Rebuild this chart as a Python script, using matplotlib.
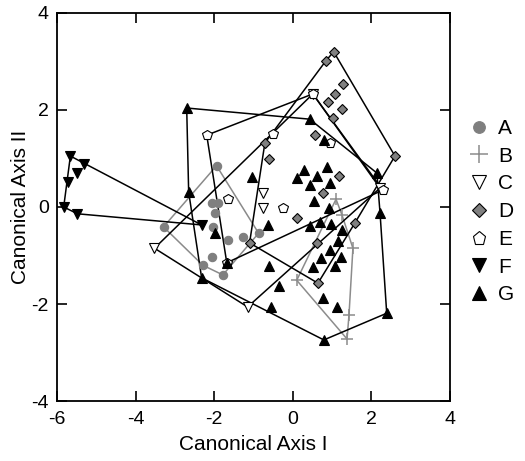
import numpy as np
import matplotlib
matplotlib.use('Agg')
import matplotlib.pyplot as plt

plt.rcParams['font.family'] = ['Liberation Sans', 'DejaVu Sans']
plt.rcParams['axes.unicode_minus'] = False

# canonical scores per group (axis I, axis II)
a_x = [-3.29, -1.94, -2.06, -1.91, -1.99, -2.04, -1.66, -1.27, -0.87, -2.06, -2.29, -1.78]
a_y = [-0.41, 0.85, 0.08, 0.08, -0.12, -0.41, -0.68, -0.62, -0.54, -1.03, -1.20, -1.40]

b_x = [1.10, 1.25, 1.53, 0.10, 1.43, 1.38]
b_y = [0.16, -0.16, -0.85, -1.51, -2.23, -2.72]

c_x = [-3.52, -0.76, -0.76, -1.15, 0.51, 2.22]
c_y = [-0.85, 0.29, -0.02, -2.06, 2.33, 0.39]

d_x = [1.04, 0.84, 1.27, 1.07, 0.89, 1.25, 1.02, 0.56, -0.71, -0.61, 1.17, 0.76,
       0.10, 1.58, 0.61, 0.64, -1.10, 2.60]
d_y = [3.20, 3.01, 2.54, 2.33, 2.16, 2.02, 1.84, 1.48, 1.32, 0.99, 0.64, 0.29,
       -0.23, -0.33, -0.74, -1.57, -0.74, 1.05]

e_x = [-2.19, 0.51, 2.29, -1.68, -1.66, -0.25, 0.94, -0.51]
e_y = [1.48, 2.33, 0.35, -1.15, 0.16, -0.02, 1.32, 1.51]

f_x = [-5.66, -5.32, -5.50, -5.73, -5.83, -5.48, -2.32]
f_y = [1.05, 0.89, 0.70, 0.52, 0.00, -0.14, -0.37]

g_x = [-2.70, 0.43, 0.79, -1.04, -2.65, 0.28, 0.10, 0.61, 0.87, 0.43, 0.94, 0.54,
       0.92, 2.14, 2.22, -1.99, -0.64, -1.68, -0.61, -0.36, -0.56, -2.32, 0.43, 0.69,
       0.97, 1.25, 1.15, 0.94, 0.71, 0.51, 1.22, 1.07, 0.76, 1.12, 2.39, 0.79]
g_y = [2.04, 1.81, 1.38, 0.62, 0.31, 0.76, 0.60, 0.64, 0.82, 0.45, 0.49, 0.12,
       -0.02, 0.70, -0.12, -0.54, -0.37, -1.15, -1.22, -1.63, -2.06, -1.46, -0.39, -0.31,
       -0.35, -0.47, -0.70, -0.89, -1.05, -1.24, -1.03, -1.22, -1.88, -2.06, -2.19, -2.74]

groups = ['A', 'B', 'C', 'D', 'E', 'F', 'G']


def hull(xs, ys):
    pts = sorted(set(zip(xs, ys)))

    def cross(o, a, b):
        return (a[0] - o[0]) * (b[1] - o[1]) - (a[1] - o[1]) * (b[0] - o[0])

    lower, upper = [], []
    for p in pts:
        while len(lower) >= 2 and cross(lower[-2], lower[-1], p) <= 0:
            lower.pop()
        lower.append(p)
    for p in reversed(pts):
        while len(upper) >= 2 and cross(upper[-2], upper[-1], p) <= 0:
            upper.pop()
        upper.append(p)
    h = lower[:-1] + upper[:-1]
    h.append(h[0])
    return np.array(h)


styles = {
    'A': dict(marker='o', ms=6, mfc='#7f7f7f', mec='#7f7f7f', line='#8a8a8a'),
    'B': dict(marker='+', ms=9, mfc='#8c8c8c', mec='#8c8c8c', line='#8c8c8c', mew=1.1),
    'C': dict(marker='v', ms=7, mfc='white', mec='black', line='black'),
    'D': dict(marker='D', ms=5, mfc='#808080', mec='black', line='black'),
    'E': dict(marker='p', ms=7, mfc='white', mec='black', line='black'),
    'F': dict(marker='v', ms=7.5, mfc='black', mec='black', line='black'),
    'G': dict(marker='^', ms=7.5, mfc='black', mec='black', line='black'),
}
data = {'A': (a_x, a_y), 'B': (b_x, b_y), 'C': (c_x, c_y), 'D': (d_x, d_y),
        'E': (e_x, e_y), 'F': (f_x, f_y), 'G': (g_x, g_y)}

fig = plt.figure(figsize=(5.25, 4.61), dpi=100)
ax = fig.add_axes([0.1086, 0.130, 0.7485, 0.842])

handles = []
for name in groups:
    xs, ys = data[name]
    s = styles[name]
    h = hull(xs, ys)
    ax.plot(h[:, 0], h[:, 1], color=s['line'], lw=1.1, zorder=2)
for name in groups:
    xs, ys = data[name]
    s = styles[name]
    ln, = ax.plot(xs, ys, ls='none', marker=s['marker'], ms=s['ms'],
                  mfc=s['mfc'], mec=s['mec'], mew=s.get('mew', 0.8),
                  label=name, zorder=3)
    handles.append(ln)

ax.set_xlim(-6, 4)
ax.set_ylim(-4, 4)
ax.set_xticks([-6, -4, -2, 0, 2, 4])
ax.set_yticks([-4, -2, 0, 2, 4])
ax.tick_params(direction='in', length=7, width=1.2, top=True, right=True,
               labelsize=14)
ax.tick_params(axis='x', pad=7)
ax.tick_params(axis='y', pad=6)
for sp in ax.spines.values():
    sp.set_linewidth(1.3)
ax.set_xlabel('Canonical Axis I', fontsize=15, labelpad=5)
ax.set_ylabel('Canonical Axis II', fontsize=15, labelpad=1)

ax.legend(handles=handles, loc='upper left', bbox_to_anchor=(1.0, 0.775),
          frameon=False, fontsize=15, markerscale=1.4, handlelength=1.0,
          handletextpad=0.4, labelspacing=0.42, borderaxespad=0.5)

fig.savefig('out.png', dpi=100)
